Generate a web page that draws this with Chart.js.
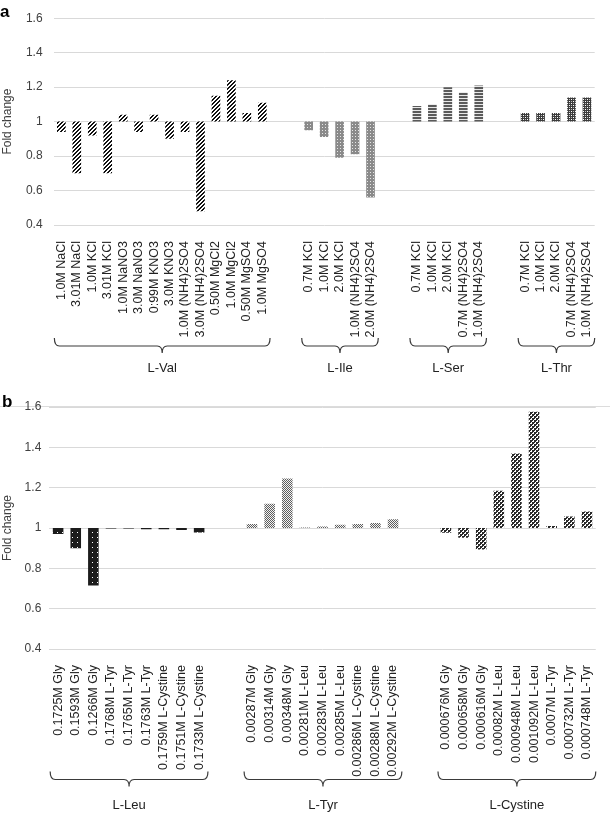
<!DOCTYPE html>
<html>
<head>
<meta charset="utf-8">
<script src="https://cdn.jsdelivr.net/npm/chart.js@4.4.1/dist/chart.umd.min.js"></script>
<style>
  html, body { margin: 0; padding: 0; background: #fff; }
  #wrap { position: relative; width: 610px; height: 814px; overflow: hidden; }
  #chartA { position: absolute; left: 0; top: 0; }
  #chartB { position: absolute; left: 0; top: 390px; }
  #sep { position: absolute; left: 0; top: 406px; width: 610px; height: 1px; background: #dcdcdc; }
</style>
</head>
<body>
<div id="wrap">
  <div id="sep"></div>
  <canvas id="chartA" width="610" height="400"></canvas>
  <canvas id="chartB" width="610" height="424"></canvas>
</div>
<script>
(function() {
    'use strict';

    // ===== DATA: panel a =====
    const valLabels = ['1.0M NaCl', '3.01M NaCl', '1.0M KCl', '3.01M KCl', '1.0M NaNO3', '3.0M NaNO3',
        '0:99M KNO3', '3.0M KNO3', '1.0M (NH4)2SO4', '3.0M (NH4)2SO4', '0.50M MgCl2', '1.0M MgCl2',
        '0.50M MgSO4', '1.0M MgSO4'];
    const valValues = [0.94, 0.70, 0.92, 0.70, 1.04, 0.94, 1.04, 0.90, 0.94, 0.48, 1.15, 1.24, 1.05, 1.11];
    const ileLabels = ['0.7M KCl', '1.0M KCl', '2.0M KCl', '1.0M (NH4)2SO4', '2.0M (NH4)2SO4'];
    const ileValues = [0.95, 0.91, 0.79, 0.81, 0.56];
    const serLabels = ['0.7M KCl', '1.0M KCl', '2.0M KCl', '0.7M (NH4)2SO4', '1.0M (NH4)2SO4'];
    const serValues = [1.09, 1.10, 1.20, 1.17, 1.21];
    const thrLabels = ['0.7M KCl', '1.0M KCl', '2.0M KCl', '0.7M (NH4)2SO4', '1.0M (NH4)2SO4'];
    const thrValues = [1.05, 1.05, 1.05, 1.14, 1.14];

    // ===== DATA: panel b =====
    const leuLabels = ['0.1725M Gly', '0.1593M Gly', '0.1266M Gly', '0.1768M L-Tyr', '0.1765M L-Tyr',
        '0.1763M L-Tyr', '0.1759M L-Cystine', '0.1751M L-Cystine', '0.1733M L-Cystine'];
    const leuValues = [0.97, 0.90, 0.715, 0.997, 0.997, 0.994, 0.994, 0.99, 0.978];
    const tyrLabels = ['0.00287M Gly', '0.00314M Gly', '0.00348M Gly', '0.00281M L-Leu', '0.00283M L-Leu',
        '0.00285M L-Leu', '0.00286M L-Cystine', '0.00288M L-Cystine', '0.00292M L-Cystine'];
    const tyrValues = [1.02, 1.12, 1.245, 1.003, 1.008, 1.016, 1.02, 1.025, 1.043];
    const cysLabels = ['0.000676M Gly', '0.000658M Gly', '0.000616M Gly', '0.00082M L-Leu', '0.000948M L-Leu',
        '0.001092M L-Leu', '0.0007M L-Tyr', '0.000732M L-Tyr', '0.000748M L-Tyr'];
    const cysValues = [0.977, 0.952, 0.893, 1.185, 1.37, 1.577, 1.01, 1.057, 1.082];

    const yTicks = [0.4, 0.6, 0.8, 1, 1.2, 1.4, 1.6];
    const baseline = 1;

    // ===== PATTERNS =====
    function makePattern(size, draw) {
        const c = document.createElement('canvas');
        c.width = size;
        c.height = size;
        const g = c.getContext('2d');
        draw(g, size);
        return g.createPattern(c, 'repeat');
    }

    function px(g, color, list) {
        g.fillStyle = color;
        list.forEach(p => g.fillRect(p[0], p[1], 1, 1));
    }

    const patterns = {
        val: makePattern(4, (g, s) => {
            g.fillStyle = '#fff';
            g.fillRect(0, 0, s, s);
            px(g, '#111', [[3, 0], [2, 1], [1, 2], [0, 3], [0, 0], [3, 1], [2, 2], [1, 3]]);
        }),
        ile: makePattern(3, (g, s) => {
            g.fillStyle = '#8a8a8a';
            g.fillRect(0, 0, s, s);
            px(g, '#e6e6e6', [[1, 1]]);
        }),
        ser: makePattern(3, (g, s) => {
            g.fillStyle = '#e8e8e8';
            g.fillRect(0, 0, s, s);
            g.fillStyle = '#5a5a5a';
            g.fillRect(0, 0, s, 2);
        }),
        thr: makePattern(4, (g, s) => {
            g.fillStyle = '#3c3c3c';
            g.fillRect(0, 0, s, s);
            px(g, '#fff', [[1, 1], [3, 3]]);
            px(g, '#bbb', [[3, 1], [1, 3]]);
        }),
        leu: makePattern(5, (g, s) => {
            g.fillStyle = '#1c1c1c';
            g.fillRect(0, 0, s, s);
            px(g, '#fff', [[2, 2]]);
        }),
        tyr: makePattern(2, (g, s) => {
            g.fillStyle = '#f2f2f2';
            g.fillRect(0, 0, s, s);
            px(g, '#5e5e5e', [[0, 0], [1, 1]]);
        }),
        cys: makePattern(4, (g, s) => {
            g.fillStyle = '#fff';
            g.fillRect(0, 0, s, s);
            g.fillStyle = '#2a2a2a';
            g.fillRect(0, 0, 2, 2);
            g.fillRect(2, 2, 2, 2);
            px(g, '#2a2a2a', [[2, 0], [0, 2]]);
        })
    };

    // ===== BUILD CATEGORY AXIS WITH GAPS =====
    function buildPanel(groups) {
        const labels = [];
        const values = [];
        const fills = [];
        const spans = [];
        groups.forEach((grp, gi) => {
            if (gi > 0) {
                labels.push('', '');
                values.push(null, null);
                fills.push(null, null);
            }
            const start = labels.length;
            grp.labels.forEach((lab, i) => {
                labels.push(lab);
                values.push([baseline, grp.values[i]]);
                fills.push(patterns[grp.pattern]);
            });
            spans.push({ name: grp.name, start: start, end: labels.length - 1 });
        });
        return { labels, values, fills, spans };
    }

    const panelA = buildPanel([
        { name: 'L-Val', labels: valLabels, values: valValues, pattern: 'val' },
        { name: 'L-Ile', labels: ileLabels, values: ileValues, pattern: 'ile' },
        { name: 'L-Ser', labels: serLabels, values: serValues, pattern: 'ser' },
        { name: 'L-Thr', labels: thrLabels, values: thrValues, pattern: 'thr' }
    ]);

    const panelB = buildPanel([
        { name: 'L-Leu', labels: leuLabels, values: leuValues, pattern: 'leu' },
        { name: 'L-Tyr', labels: tyrLabels, values: tyrValues, pattern: 'tyr' },
        { name: 'L-Cystine', labels: cysLabels, values: cysValues, pattern: 'cys' }
    ]);

    // ===== BRACES + GROUP NAMES + PANEL LETTER =====
    function bracePlugin(panel, opts) {
        return {
            id: 'braces' + opts.letter,
            afterDraw(chart) {
                const ctx = chart.ctx;
                const x = chart.scales.x;
                const step = x.getPixelForValue(1) - x.getPixelForValue(0);
                ctx.save();
                ctx.strokeStyle = '#3a3a3a';
                ctx.lineWidth = 1.2;
                panel.spans.forEach(sp => {
                    const x1 = x.getPixelForValue(sp.start) - 0.45 * step;
                    const x2 = x.getPixelForValue(sp.end) + 0.5 * step;
                    const cx = (x1 + x2) / 2;
                    const y0 = opts.braceTop;
                    const y1 = y0 + 8;
                    const r = 5;
                    ctx.beginPath();
                    ctx.moveTo(x1, y0);
                    ctx.quadraticCurveTo(x1, y1, x1 + r, y1);
                    ctx.lineTo(cx - r, y1);
                    ctx.quadraticCurveTo(cx, y1, cx, y1 + 7);
                    ctx.quadraticCurveTo(cx, y1, cx + r, y1);
                    ctx.lineTo(x2 - r, y1);
                    ctx.quadraticCurveTo(x2, y1, x2, y0);
                    ctx.stroke();

                    ctx.fillStyle = '#222';
                    ctx.font = '13px "Liberation Sans", Arial, sans-serif';
                    ctx.textAlign = 'center';
                    ctx.textBaseline = 'middle';
                    ctx.fillText(sp.name, cx, opts.nameY);
                });
                ctx.fillStyle = '#000';
                ctx.font = 'bold 17px "Liberation Sans", Arial, sans-serif';
                ctx.textAlign = 'left';
                ctx.textBaseline = 'alphabetic';
                ctx.fillText(opts.letter, opts.letterX, opts.letterY);
                ctx.restore();
            }
        };
    }

    function createChart(canvasId, panel, opts) {
        const canvas = document.getElementById(canvasId);
        return new Chart(canvas, {
            type: 'bar',
            data: {
                labels: panel.labels,
                datasets: [{
                    data: panel.values,
                    backgroundColor: panel.fills,
                    borderWidth: 0,
                    categoryPercentage: 1,
                    barPercentage: opts.barPct
                }]
            },
            options: {
                responsive: false,
                animation: false,
                maintainAspectRatio: false,
                layout: {
                    padding: { top: opts.padTop, right: 3, left: 0, bottom: 0 }
                },
                plugins: {
                    legend: { display: false },
                    tooltip: { enabled: false }
                },
                scales: {
                    x: {
                        grid: { display: false },
                        border: { display: false },
                        ticks: {
                            autoSkip: false,
                            maxRotation: 90,
                            minRotation: 90,
                            padding: 8,
                            color: '#222',
                            font: { family: '"Liberation Sans", Arial, sans-serif', size: 12.5 }
                        },
                        afterFit: function(scale) {
                            scale.height = opts.xHeight;
                        }
                    },
                    y: {
                        min: yTicks[0],
                        max: yTicks[yTicks.length - 1],
                        afterBuildTicks: function(scale) {
                            scale.ticks = yTicks.map(v => ({ value: v }));
                        },
                        grid: { color: '#d9d9d9', lineWidth: 1, drawTicks: false },
                        border: { display: false },
                        ticks: {
                            padding: opts.yPad,
                            color: '#404040',
                            font: { family: '"Liberation Sans", Arial, sans-serif', size: 12 },
                            callback: v => String(+Number(v).toFixed(1))
                        },
                        title: {
                            display: true,
                            text: 'Fold change',
                            color: '#404040',
                            padding: 0,
                            font: { family: '"Liberation Sans", Arial, sans-serif', size: 12 }
                        },
                        afterFit: function(scale) {
                            scale.width = opts.yWidth;
                        }
                    }
                }
            },
            plugins: [bracePlugin(panel, opts)]
        });
    }

    createChart('chartA', panelA, {
        letter: 'a', letterX: 0, letterY: 17,
        padTop: 14, xHeight: 175, yWidth: 53.6, yPad: 11, barPct: 0.56,
        braceTop: 338, nameY: 368
    });

    createChart('chartB', panelB, {
        letter: 'b', letterX: 2, letterY: 17,
        padTop: 17, xHeight: 165, yWidth: 49.3, yPad: 8, barPct: 0.6,
        braceTop: 381.5, nameY: 415
    });
})();
</script>
</body>
</html>
